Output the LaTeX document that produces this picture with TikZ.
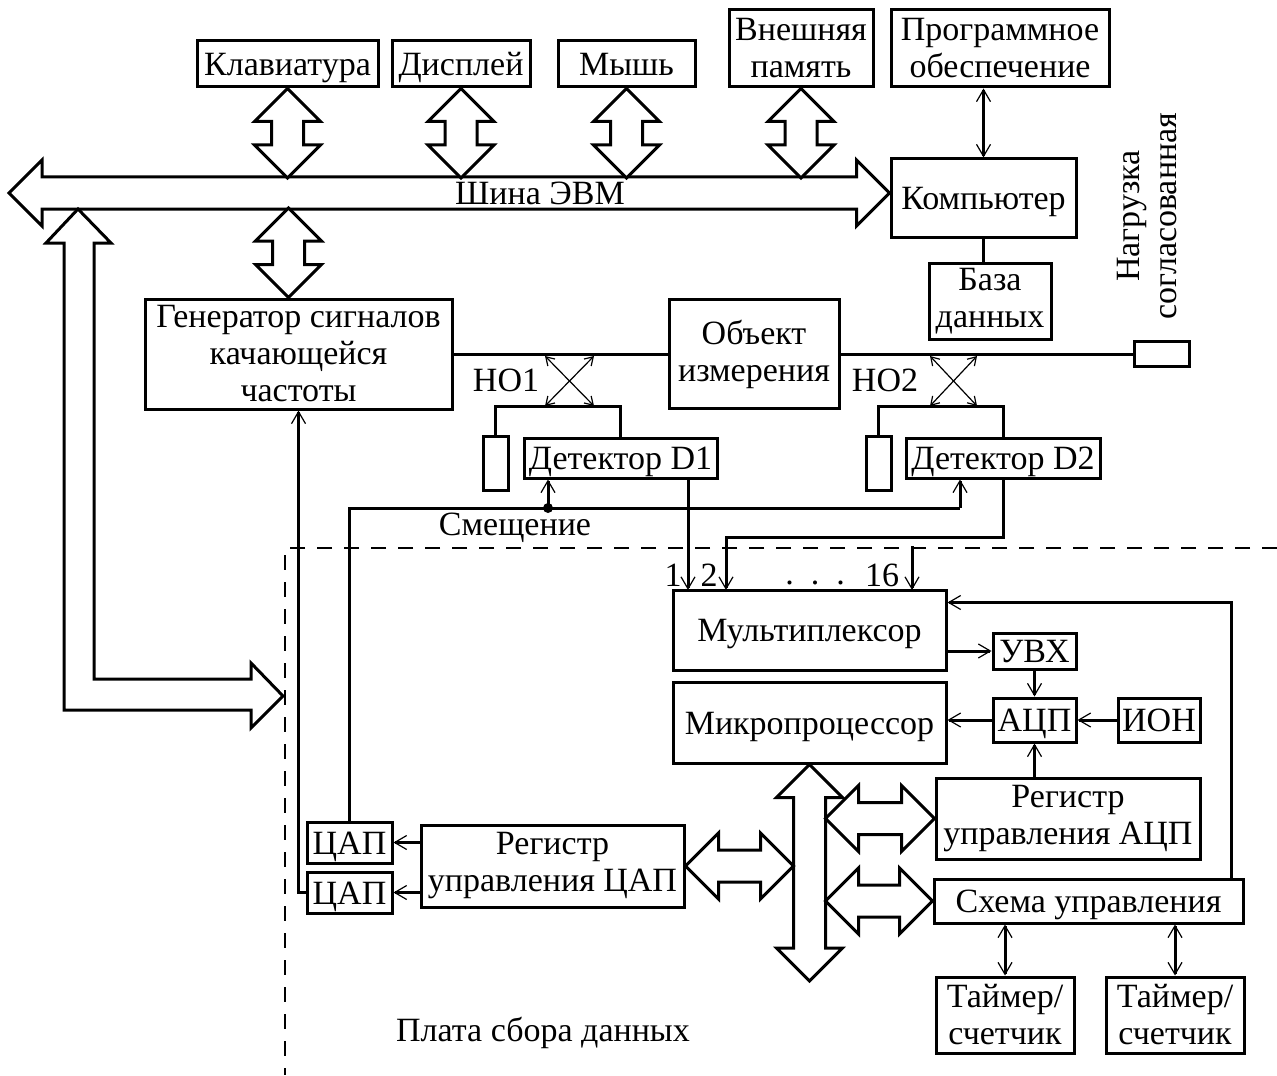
\documentclass[tikz,border=0pt]{standalone}
\usepackage{fontspec}
\setmainfont{Liberation Serif}
\usetikzlibrary{arrows.meta,calc}
\newcommand{\vdbl}[2]{%
  \draw[hollow] let \p1=#1, \p2=#2 in
    (\x1,\y1) -- (\x1+16.5pt,\y1-16.5pt) -- (\x1+8pt,\y1-16.5pt)
    -- (\x1+8pt,\y2+16.5pt) -- (\x1+16.5pt,\y2+16.5pt) -- (\x1,\y2)
    -- (\x1-16.5pt,\y2+16.5pt) -- (\x1-8pt,\y2+16.5pt)
    -- (\x1-8pt,\y1-16.5pt) -- (\x1-16.5pt,\y1-16.5pt) -- cycle;}
\newcommand{\hdbl}[2]{%
  \draw[hollow] let \p1=#1, \p2=#2 in
    (\x1,\y1) -- (\x1+16.5pt,\y1+16.5pt) -- (\x1+16.5pt,\y1+8pt)
    -- (\x2-16.5pt,\y1+8pt) -- (\x2-16.5pt,\y1+16.5pt) -- (\x2,\y1)
    -- (\x2-16.5pt,\y1-16.5pt) -- (\x2-16.5pt,\y1-8pt)
    -- (\x1+16.5pt,\y1-8pt) -- (\x1+16.5pt,\y1-16.5pt) -- cycle;}
\begin{document}
\begin{tikzpicture}[x=0.5pt,y=-0.5pt,
  font=\fontsize{17}{18.5}\selectfont,
  box/.style 2 args={draw, line width=1.5pt, inner sep=0pt, align=center,
    minimum width=#1*0.5pt, minimum height=#2*0.5pt},
  box1/.style 2 args={box={#1}{#2}, text height=11.5pt, text depth=0pt},
  conn/.style={line width=1.5pt},
  arr/.style={conn, -{Straight Barb[length=6pt,width=7pt,line width=0.6pt]}},
  darr/.style={conn, {Straight Barb[length=6pt,width=7pt,line width=0.6pt]}-{Straight Barb[length=6pt,width=7pt,line width=0.6pt]}},
  cross/.style={line width=0.6pt, {Straight Barb[length=4pt,width=5pt]}-{Straight Barb[length=4pt,width=5pt]}},
  hollow/.style={draw, fill=white, line width=1.5pt},
  board/.style={line width=1pt, dash pattern=on 7.5pt off 6pt}]

  \useasboundingbox (0,0) rectangle (1277,1075);

  \node[box1={181}{46}] (kb)     at (287.5,64)  {Клавиатура};
  \node[box1={138}{46}] (disp)   at (461,64)    {Дисплей};
  \node[box1={137}{46}] (mouse)  at (626.5,64)  {Мышь};
  \node[box={144}{77}]  (extmem) at (801,48.5)  {Внешняя\\память};
  \node[box={218}{77}]  (soft)   at (1000,48.5) {Программное\\обеспечение};
  \node[box1={185}{78}] (pc)     at (983.5,198) {Компьютер};
  \node[box={122}{76}]  (db)     at (990,301)   {База\\данных};

  \node[box={307}{110}] (gen)  at (298.5,354) {Генератор сигналов\\качающейся\\частоты};
  \node[box={170}{109}] (obj)  at (754,354)   {Объект\\измерения};
  \node[box={55}{25}]   (load) at (1161.5,354) {};
  \node[rotate=90, align=center] (loadtxt) at (1147,216) {Нагрузка\\согласованная};

  \node[box={25}{54}]   (term1) at (495.5,463) {};
  \node[box1={193}{40}] (d1)    at (620.5,458) {Детектор D1};
  \node[box={25}{54}]   (term2) at (878.5,463) {};
  \node[box1={194}{40}] (d2)    at (1003,458)  {Детектор D2};
  \node (ho1)  at (506,380) {НО1};
  \node (ho2)  at (885,380) {НО2};
  \node (bias) at (515,528) {Смещение};

  \node[box1={273}{80}] (mux)  at (809.5,630)  {Мультиплексор};
  \node[box1={273}{81}] (mp)   at (809.5,722.5) {Микропроцессор};
  \node[box1={83}{36}]  (shx)  at (1034.5,651) {УВХ};
  \node[box1={83}{44}]  (adc)  at (1034.5,720) {АЦП};
  \node[box1={82}{44}]  (ion)  at (1159,720)   {ИОН};
  \node[box={264}{81}]  (radc) at (1068,818.5) {Регистр\\управления АЦП};
  \node[box1={309}{44}] (ctrl) at (1088.5,901) {Схема управления};
  \node[box={138}{76}]  (tim1) at (1005,1015)  {Таймер/\\счетчик};
  \node[box={138}{76}]  (tim2) at (1175,1015)  {Таймер/\\счетчик};
  \node[box={263}{82}]  (rdac) at (552.5,866)  {Регистр\\управления ЦАП};
  \node[box1={85}{41}]  (dac1) at (349.5,842.5) {ЦАП};
  \node[box1={85}{41}]  (dac2) at (349.5,892.5) {ЦАП};

  \node (n1)    at (673,575) {1};
  \node (n2)    at (709,575) {2};
  \node (ndots) at (815,583) {.\ \ .\ \ .};
  \node (n16)   at (882,575) {16};
  \node (plata) at (543,1033) {Плата сбора данных};

  \coordinate (busleft) at (9,193);
  \coordinate (bustop)  at (0,178);
  \coordinate (busbot)  at (0,208);
  \hdbl{(busleft)}{(pc.west |- busleft)}
  \node (bus) at (540,193) {Шина ЭВМ};
  \vdbl{(kb.south)}{(kb.south |- bustop)}
  \vdbl{(disp.south)}{(disp.south |- bustop)}
  \vdbl{(mouse.south)}{(mouse.south |- bustop)}
  \vdbl{(extmem.south)}{(extmem.south |- bustop)}
  \vdbl{([xshift=-5pt]gen.north |- busbot)}{(gen.north)}

  \coordinate (lbus) at (78,209);
  \draw[hollow] (lbus) -- ++(33,34) -- ++(-17,0) -- ++(0,436) -- ++(157,0)
    -- ++(0,-16) -- ++(32,33) -- ++(-32,32) -- ++(0,-18) -- ++(-187,0)
    -- ++(0,-467) -- ++(-18,0) -- cycle;

  \draw[board] (1277,548) -| (285,1075);

  \draw[darr] (pc.north) -- (pc.north |- soft.south);
  \draw[conn] (pc.south) -- (pc.south |- db.north);
  \draw[conn] (gen.east) -- (obj.west);
  \draw[conn] (obj.east) -- (load.west);

  \coordinate (x1a) at (545,356);
  \coordinate (x1b) at (594,356);
  \coordinate (x2a) at (930,356);
  \coordinate (x2b) at (977,356);
  \draw[cross] (x1a) -- ++(49,50);
  \draw[cross] (x1b) -- ++(-49,50);
  \draw[cross] (x2a) -- ++(47,50);
  \draw[cross] (x2b) -- ++(-47,50);
  \draw[conn] (term1.north) -- ++(0,-28) -| (d1.north);
  \draw[conn] (term2.north) -- ++(0,-28) -| (d2.north);

  \coordinate (b1) at (548,508);
  \coordinate (b2) at (960,508);
  \draw[conn] (dac1.north) |- (b2);
  \draw[arr] (b1) -- (b1 |- d1.south);
  \draw[arr] (b2) -- (b2 |- d2.south);
  \fill (b1) circle (2.5pt);

  \coordinate (ch1)  at (688,590);
  \coordinate (ch2)  at (726,590);
  \coordinate (ch16) at (912,590);
  \draw[arr] (ch1 |- d1.south) -- (ch1);
  \draw[arr] (d2.south) -- ++(0,58) -| (ch2);
  \draw[arr] ([yshift=22pt]ch16) -- (ch16);

  \draw[arr] (mux.east |- shx.west) -- (shx.west);
  \draw[arr] (shx.south) -- (adc.north);
  \draw[arr] (ion.west) -- (adc.east);
  \draw[arr] (adc.west) -- (adc.west -| mp.east);
  \draw[arr] (adc.south |- radc.north) -- (adc.south);
  \draw[arr] ([xshift=-6.5pt]ctrl.north east) |- ([yshift=-7pt]mux.north east);
  \draw[darr] (tim1.north) -- (tim1.north |- ctrl.south);
  \draw[darr] (tim2.north) -- (tim2.north |- ctrl.south);

  \draw[arr] (dac1.east -| rdac.west) -- (dac1.east);
  \draw[arr] (dac2.east -| rdac.west) -- (dac2.east);
  \draw[arr] (dac2.west) -| (gen.south);

  \coordinate (mpbus) at (813,981);
  \vdbl{(mp.south)}{(mp.south |- mpbus)}
  \hdbl{(rdac.east)}{([xshift=-8pt]mp.south |- rdac.east)}
  \hdbl{([xshift=8pt]mp.south |- radc.west)}{(radc.west)}
  \hdbl{([xshift=8pt]mp.south |- ctrl.west)}{(ctrl.west)}
\end{tikzpicture}
\end{document}
